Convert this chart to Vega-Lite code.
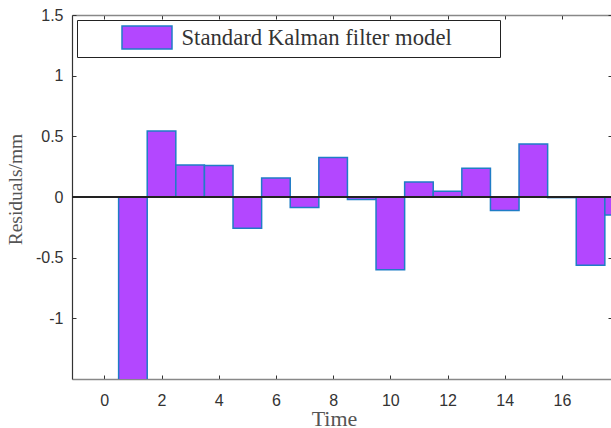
{
  "$schema": "https://vega.github.io/schema/vega-lite/v6.json",
  "autosize": {"type": "none"},
  "padding": {"left": 72, "top": 15, "right": 0, "bottom": 49},
  "width": 540,
  "height": 364,
  "background": "white",
  "config": {
    "view": {"stroke": null},
    "axis": {
      "grid": false,
      "labelFont": "Liberation Sans",
      "labelFontSize": 16,
      "labelColor": "#333333",
      "titleFont": "Liberation Serif",
      "titleFontSize": 20,
      "titleFontWeight": "normal",
      "titleColor": "#555555",
      "tickColor": "#333333",
      "tickSize": -4,
      "domainColor": "#888888",
      "domainWidth": 1.5
    }
  },
  "data": {
    "values": [
      {"time": 1, "residual": -1.62, "model": "Standard Kalman filter model"},
      {"time": 2, "residual": 0.544, "model": "Standard Kalman filter model"},
      {"time": 3, "residual": 0.264, "model": "Standard Kalman filter model"},
      {"time": 4, "residual": 0.26, "model": "Standard Kalman filter model"},
      {"time": 5, "residual": -0.258, "model": "Standard Kalman filter model"},
      {"time": 6, "residual": 0.157, "model": "Standard Kalman filter model"},
      {"time": 7, "residual": -0.087, "model": "Standard Kalman filter model"},
      {"time": 8, "residual": 0.325, "model": "Standard Kalman filter model"},
      {"time": 9, "residual": -0.02, "model": "Standard Kalman filter model"},
      {"time": 10, "residual": -0.6, "model": "Standard Kalman filter model"},
      {"time": 11, "residual": 0.124, "model": "Standard Kalman filter model"},
      {"time": 12, "residual": 0.047, "model": "Standard Kalman filter model"},
      {"time": 13, "residual": 0.237, "model": "Standard Kalman filter model"},
      {"time": 14, "residual": -0.112, "model": "Standard Kalman filter model"},
      {"time": 15, "residual": 0.437, "model": "Standard Kalman filter model"},
      {"time": 16, "residual": -0.005, "model": "Standard Kalman filter model"},
      {"time": 17, "residual": -0.563, "model": "Standard Kalman filter model"},
      {"time": 18, "residual": -0.148, "model": "Standard Kalman filter model"}
    ]
  },
  "layer": [
    {
      "mark": {"type": "bar", "width": 28.6, "clip": true, "stroke": "#1F7DC6", "strokeWidth": 1.5, "fillOpacity": 1},
      "encoding": {
        "x": {
          "field": "time", "type": "quantitative",
          "scale": {"domain": [-1.13, 17.75], "nice": false, "zero": false, "padding": 0},
          "axis": {
            "title": "Time", "values": [0, 2, 4, 6, 8, 10, 12, 14, 16],
            "labelPadding": 17, "titlePadding": 0, "titleX": 262, "titleFontSize": 22
          }
        },
        "y": {
          "field": "residual", "type": "quantitative",
          "scale": {"domain": [-1.5, 1.5], "nice": false},
          "axis": {
            "title": "Residuals/mm", "values": [-1, -0.5, 0, 0.5, 1, 1.5],
            "labelExpr": "'' + datum.value", "labelPadding": 13, "titlePadding": 10,
            "titleFontSize": 19.5, "titleY": 174,
            "domainColor": "#333333", "domainWidth": 1.2
          }
        },
        "color": {
          "field": "model", "type": "nominal",
          "scale": {"range": ["#B347FF"]},
          "legend": {
            "title": ".", "titleOrient": "right", "titleOpacity": 0, "titleFontSize": 2, "titlePadding": 42,
            "orient": "none", "legendX": 5, "legendY": 5,
            "strokeColor": "#222222", "fillColor": "white", "padding": 5,
            "symbolType": "M-2.174,-1H2.174V1H-2.174Z", "symbolSize": 529,
            "symbolStrokeColor": "#1F7DC6", "symbolStrokeWidth": 1.5, "symbolOpacity": 1,
            "symbolOffset": 52.5,
            "labelFont": "Liberation Serif", "labelFontSize": 22.7, "labelColor": "#333333",
            "labelOffset": 22, "labelLimit": 500
          }
        }
      }
    },
    {
      "mark": {"type": "rule", "color": "#222222", "strokeWidth": 1.2},
      "encoding": {"y": {"datum": 0, "type": "quantitative", "axis": null}}
    },
    {
      "mark": {"type": "rule", "opacity": 0},
      "encoding": {
        "x": {"field": "time", "type": "quantitative",
          "scale": {"domain": [-1.13, 17.75], "nice": false, "zero": false, "padding": 0},
          "axis": {"orient": "top", "title": null, "labels": false, "values": [0, 2, 4, 6, 8, 10, 12, 14, 16]}},
        "y": {"field": "residual", "type": "quantitative",
          "scale": {"domain": [-1.5, 1.5], "nice": false},
          "axis": {"orient": "right", "title": null, "labels": false, "values": [-1, -0.5, 0, 0.5, 1, 1.5], "domainColor": "#333333"}}
      }
    }
  ],
  "resolve": {"axis": {"x": "independent", "y": "independent"}}
}
